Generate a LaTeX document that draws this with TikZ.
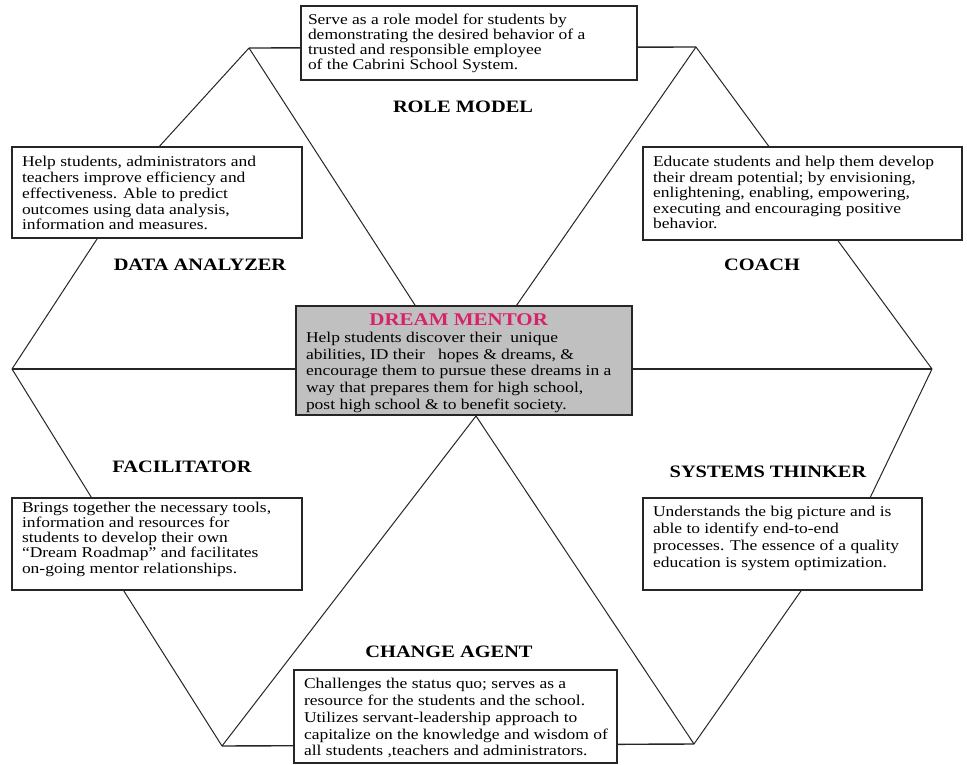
\documentclass[tikz,border=0pt]{standalone}
\usepackage{fontspec}
\setmainfont{Liberation Serif}[FakeStretch=1.17]
\definecolor{dmred}{RGB}{214,36,108}
\definecolor{cgray}{RGB}{192,192,192}
\tikzset{
  edgeline/.style={line width=1bp, black!85},
  hline/.style={line width=1.4bp, black!85},
  tbox/.style={draw=black!85, line width=1.3bp, fill=white, anchor=north west,
               inner xsep=10bp, inner ysep=0bp, outer sep=0pt},
  cbox/.style={tbox, fill=cgray},
  rolelabel/.style={font=\fontsize{17.5}{20}\selectfont\bfseries, inner sep=0pt}
}
% width, height, baselineskip, top gap, lines
\newcommand{\boxtext}[5]{\parbox[c][#2][t]{#1}{\vspace*{#4}\fontsize{15}{#3}\selectfont\noindent\begin{tabular}[t]{@{}l@{}}#5\end{tabular}}}
\begin{document}
\begin{tikzpicture}[x=1bp,y=-1bp]
\fill[white] (0,0) rectangle (967,765);
\useasboundingbox (0,0) rectangle (967,765);
% hexagon vertices
\coordinate (TL) at (249,48);
\coordinate (TR) at (696,47);
\coordinate (L)  at (12,369);
\coordinate (R)  at (932,369);
\coordinate (BL) at (222,746);
\coordinate (BR) at (694,744);
% hidden bends behind the boxes and hidden centres
\coordinate (kda1) at (157,149);
\coordinate (kda2) at (99,236);
\coordinate (kfa1) at (93,500);
\coordinate (kfa2) at (122,588);
\coordinate (kst1) at (869,500);
\coordinate (kst2) at (803,588);
\coordinate (ct) at (464,381);
\coordinate (cb) at (476,416);
% outer hexagon
\draw[hline] (TL) -- (TR);
\draw[edgeline] (TR) -- (R);
\draw[edgeline] (R) -- (kst1) -- (kst2) -- (BR);
\draw[hline] (BR) -- (BL);
\draw[edgeline] (BL) -- (kfa2) -- (kfa1) -- (L);
\draw[edgeline] (L) -- (kda2) -- (kda1) -- (TL);
% spokes
\draw[edgeline] (TL) -- (ct) -- (TR);
\draw[edgeline] (BL) -- (cb) -- (BR);
\draw[hline] (L) -- (R);
% boxes
\node[tbox, inner xsep=7bp] (rm) at (301,6) {\boxtext{322bp}{74bp}{15bp}{7.5bp}{%
Serve as a role model for students by\\
demonstrating the desired behavior of a\\
trusted and responsible employee\\
of the Cabrini School System.}};
\node[tbox] (da) at (12,147) {\boxtext{270bp}{91bp}{15.7bp}{9bp}{%
Help students, administrators and\\
teachers improve efficiency and\\
effectiveness. Able to predict\\
outcomes using data analysis,\\
information and measures.}};
\node[tbox] (co) at (643,147) {\boxtext{299bp}{93bp}{15.4bp}{9.2bp}{%
Educate students and help them develop\\
their dream potential; by envisioning,\\
enlightening, enabling, empowering,\\
executing and encouraging positive\\
behavior.}};
\node[cbox] (dm) at (296,306) {\boxtext{316bp}{109bp}{16.7bp}{8bp}{%
\multicolumn{1}{c}{\fontsize{18}{20}\selectfont\bfseries\color{dmred}DREAM MENTOR}\\
Help students discover their~ unique\\
abilities, ID their~~ hopes \& dreams, \&\\
encourage them to pursue these dreams in a\\
way that prepares them for high school,\\
post high school \& to benefit society.}};
\node[tbox] (fa) at (12,498) {\boxtext{270bp}{92bp}{15.3bp}{3.3bp}{%
Brings together the necessary tools,\\
information and resources for\\
students to develop their own\\
“Dream Roadmap” and facilitates\\
on-going mentor relationships.}};
\node[tbox] (st) at (643,498) {\boxtext{259bp}{92bp}{16.7bp}{7.3bp}{%
Understands the big picture and is\\
able to identify end-to-end\\
processes. The essence of a quality\\
education is system optimization.}};
\node[tbox] (ca) at (294,670) {\boxtext{303bp}{93bp}{16.7bp}{7.3bp}{%
Challenges the status quo; serves as a\\
resource for the students and the school.\\
Utilizes servant-leadership approach to\\
capitalize on the knowledge and wisdom of\\
all students ,teachers and administrators.}};
% role labels
\node[rolelabel] (lrm) at (463,107) {ROLE MODEL};
\node[rolelabel] (lda) at (200,265) {DATA ANALYZER};
\node[rolelabel] (lco) at (762,265) {COACH};
\node[rolelabel] (lfa) at (182,467) {FACILITATOR};
\node[rolelabel] (lst) at (768,472) {SYSTEMS THINKER};
\node[rolelabel] (lca) at (449,652) {CHANGE AGENT};
\end{tikzpicture}
\end{document}
